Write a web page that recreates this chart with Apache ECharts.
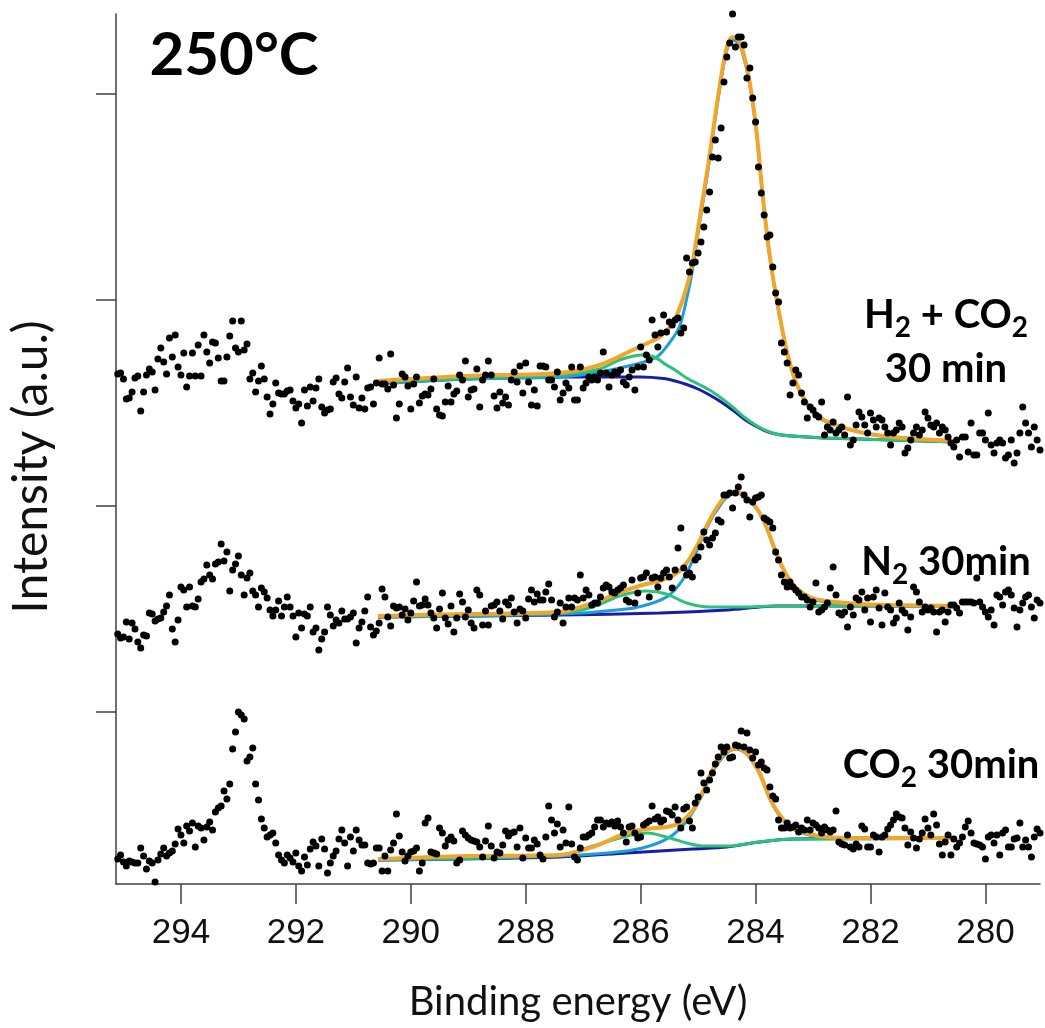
<!DOCTYPE html>
<html lang="en">
<head>
<meta charset="UTF-8">
<title>C 1s spectra 250°C</title>
<style>
  html, body { margin: 0; padding: 0; background: #fff; }
  #chart { width: 1045px; height: 1028px; }
</style>
</head>
<body>
<div id="chart"></div>
<script src="https://cdn.jsdelivr.net/npm/echarts@6/dist/echarts.min.js"></script>
<script>
// energy grid of the measured points (eV), highest energy first
var energyStart = 295.1;
var energyStep = 0.05;

// tick positions
var xTicks = [280, 282, 284, 286, 288, 290, 292, 294];
var yTicks = [172, 378, 584, 790];

// measured points, offset spectra (a.u.)
var h2co2Counts = [510,
  511,505,485,486,492,506,508,473,492,509, 515,512,494,525,536,522,510,546,527,549,
  517,509,531,497,508,531,508,539,508,549, 532,521,542,541,526,503,503,527,548,563,
  536,532,563,534,540,505,511,492,503,518, 505,487,470,480,501,491,490,490,493,494,
  483,476,480,461,494,478,497,483,496,505, 477,471,474,475,502,506,490,486,502,516,
  487,479,507,476,486,475,496,497,480,501, 526,500,500,495,530,499,466,480,510,507,
  498,475,500,507,481,488,490,489,495,505, 475,469,468,482,498,482,490,493,509,504,
  523,487,494,495,515,477,504,509,523,509, 488,476,492,481,487,479,504,512,502,518,
  491,521,502,479,494,478,518,518,517,504, 504,497,512,
  484,491,501,496,517,484,484,517,496,501, 507,504,507,504,511,532,511,497,509,512,
  511,514,502,499,507,514,494,517,537,517, 529,524,564,549,537,551,569,552,562,559,
  564,566,551,556,
  626,612,621,622,631,642,657,674,692,727, 744,726,756,802,827,841,870,837,847,847,
  839,806,816,786,762,717,691,669,647,649, 617,591,582,541,532,521,489,501,514,509,
  491,482,466,477,474,469,467,482,
  449,457,454,462,451,454,457,449,487,439, 444,459,472,467,459,451,471,464,457,466,
  464,457,451,439,451,454,461,457,431,436, 444,451,457,449,454,472,466,459,457,461,
  451,457,454,447,441,437,444,427,447,447, 432,461,429,429,451,451,444,471,439,431,
  441,444,441,426,429,444,421,431,451,477, 461,451,437,457,444,434];

var n2Counts = [250,
  246,247,262,245,261,255,242,236,249,248, 271,270,263,265,266,272,278,289,255,242,
  264,297,294,277,297,278,277,285,302,305, 319,309,305,320,322,340,323,332,293,314,
  320,328,309,289,306,311,293,289,277,296, 292,286,274,268,274,283,268,277,287,277,
  268,247,271,256,270,268,277,252,256,234, 245,252,277,269,258,264,261,273,265,265,
  267,271,241,256,262,273,287,257,249,253, 261,295,287,267,258,278,276,277,269,275,
  264,271,283,302,278,279,285,279,271,266, 256,275,291,266,260,278,252,266,290,282,
  267,274,261,256,294,289,259,273,259,278, 279,282,273,265,282,279,286,272,261,275,
  273,266,285,294,282,290,284,284,292,300, 284,267,272,
  281,261,277,286,277,286,284,309,286,294, 289,279,281,281,287,296,299,297,292,291,
  294,296,299,284,282,304,281,291,306,307, 311,287,306,307,297,306,311,314,307,296,
  314,336,356,316,309,311,307,324,327,337, 352,344,339,346,351,364,362,389,389,391,
  376,391,397,407,389,384,367,382,386,387, 389,366,364,362,356,332,324,309,302,297,
  302,297,294,291,287,287,284,277,282,301, 272,274,277,281,296,317,289,271,269,272,
  257,277,269,286,284,292,274,286,262,287, 294,276,259,291,277,274,261,266,281,274,
  271,254,267,297,292,282,272,277,274,276, 272,252,272,274,262,272,279,279,276,271,
  282,282,282,282,281,306,282,277,272,267, 274,259,289,287,279,292,294,289,276,257,
  274,281,287,289,277,266,284,281];

var co2Counts = [25,
  29,22,18,23,22,21,21,36,28,15, 23,21,2,24,30,36,28,31,33,40,
  55,49,41,58,53,61,37,58,56,44, 57,62,54,72,76,78,93,85,100,135,
  152,172,169,165,123,127,136,100,84,65, 56,47,49,51,41,29,24,21,29,26,
  22,31,18,13,27,19,35,42,38,18, 45,35,11,21,28,33,45,54,41,18,
  47,33,54,44,39,39,21,20,21,36, 36,13,28,13,34,41,70,48,32,23,
  28,32,33,36,13,21,61,66,32,31, 30,56,51,38,44,47,43,21,24,53,
  49,46,44,43,42,37,27,43,58,38, 26,32,31,39,53,48,51,52,37,56,
  26,46,36,36,44,40,29,25,47,78, 64,51,60,
  37,54,41,77,40,27,24,36,47,47, 49,51,57,64,64,57,61,60,62,58,
  63,57,51,42,57,58,51,46,47,59, 61,63,78,65,67,62,64,73,72,69,
  77,64,56,75,77,63,56,81,87,111, 101,94,104,111,120,127,137,132,137,126,
  127,139,138,153,137,151,134,126,132,119, 122,116,114,97,88,85,64,56,56,61,
  56,57,59,52,56,54,64,54,61,59, 56,51,57,54,52,54,73,42,40,39,
  49,37,35,40,37,58,55,37,37,49, 47,32,47,49,55,59,64,70,67,66,
  56,39,52,46,36,45,51,65,56,49, 70,59,40,29,42,49,29,45,37,41,
  47,57,63,51,41,40,39,37,25,47, 49,41,49,29,51,54,37,37,45,46,
  61,37,44,37,27,47,55,51];

// fitted curves [energy, intensity]
var h2co2Envelope = [[290.57,503],[289.03,508],[287.41,511],[286.71,519],[286.14,534],[285.84,542],[285.67,547],[285.44,561],[285.27,584],[285.11,617],[284.97,667],[284.83,717],[284.68,777],[284.54,827],[284.47,842],[284.40,847],[284.32,845],[284.24,837],[284.10,801],[283.98,751],[283.88,691],[283.76,631],[283.63,584],[283.46,534],[283.29,501],[283.06,477],[282.77,463],[282.19,452],[281.62,447],[280.50,443]];
var h2co2Main = [[290.57,500],[289.03,505],[287.41,507],[286.71,512],[286.14,519],[285.72,527],[285.50,541],[285.32,558],[285.20,585],[285.11,610],[284.97,662],[284.83,713],[284.68,774],[284.54,824],[284.47,839],[284.40,844],[284.32,842],[284.24,834],[284.10,799],[283.98,749],[283.88,690],[283.76,630],[283.63,583],[283.46,533],[283.29,500],[283.06,476],[282.77,462],[282.19,452],[281.62,447],[280.50,443]];
var h2co2Second = [[290.57,502],[289.03,506],[287.41,509],[286.71,515],[286.37,524],[285.97,529],[285.76,527],[285.55,519],[285.40,514],[285.20,506],[285.00,500],[284.80,494],[284.60,486],[284.40,477],[284.20,467],[284.00,459],[283.80,453],[283.60,449.5],[283.36,448],[282.77,446],[280.50,442]];
var h2co2Background = [[290.57,501],[289.03,505],[287.41,507],[286.71,507],[286.00,507],[285.60,505.5],[285.40,503],[285.20,499.5],[285.00,495],[284.80,489],[284.60,482],[284.40,474],[284.20,465],[284.00,458],[283.80,452.5],[283.60,449.5],[283.36,448],[282.77,446],[280.50,442]];

var n2Envelope = [[290.57,268],[289.03,270],[287.41,272],[286.83,281],[286.24,294],[285.90,300],[285.67,303],[285.37,311],[285.20,321],[285.03,337],[284.86,357],[284.68,376],[284.50,389],[284.33,392],[284.16,387],[283.98,376],[283.81,357],[283.64,331],[283.46,309],[283.29,296],[283.06,287],[282.77,283],[282.19,280],[281.62,279],[280.50,278]];
var n2Main = [[290.57,267],[287.41,270],[286.24,275],[285.79,281],[285.50,289],[285.27,304],[285.09,324],[284.92,347],[284.76,366],[284.68,373],[284.50,387],[284.33,391],[284.16,386],[283.98,375],[283.81,356],[283.64,330],[283.46,308],[283.29,295],[283.06,286],[282.77,282],[282.19,279],[281.62,278],[280.50,278]];
var n2Second = [[290.57,268],[287.41,271],[286.83,277],[286.37,288],[285.90,293],[285.55,290],[285.20,281],[284.80,277],[284.22,277],[283.64,278],[280.50,278]];
var n2Background = [[290.57,267],[287.41,269],[285.67,271],[284.50,274],[283.93,277],[283.64,278],[280.50,278]];

var co2Envelope = [[290.57,25],[289.03,28],[287.41,29],[286.83,37],[286.24,51],[285.90,55],[285.55,57],[285.32,61],[285.09,74],[284.92,92],[284.75,114],[284.57,129],[284.45,134],[284.33,136],[284.20,133],[284.10,127],[283.93,111],[283.76,87],[283.58,69],[283.36,56],[283.06,50],[282.77,47],[282.19,46],[280.50,46]];
var co2Main = [[290.57,24],[287.41,28],[286.24,33],[285.79,39],[285.44,49],[285.15,67],[284.92,90],[284.75,112],[284.57,127],[284.45,133],[284.33,135],[284.20,132],[284.10,126],[283.93,110],[283.76,86],[283.58,68],[283.36,55],[283.06,49],[282.77,46],[282.19,46],[280.50,46]];
var co2Second = [[290.57,25],[287.41,29],[286.83,38],[286.24,48],[285.88,51],[285.55,47],[285.20,41],[284.92,38],[284.50,38],[283.93,42],[283.36,45],[282.19,45],[280.50,46]];
var co2Background = [[290.57,24],[287.41,27],[286.24,31],[285.09,35],[284.50,37],[283.93,42],[283.36,45],[280.50,46]];

var chart = echarts.init(document.getElementById('chart'));

function toPoints(counts) {
  return counts.map(function (v, i) {
    return [+(energyStart - energyStep * i).toFixed(2), v];
  });
}

function dots(counts) {
  return {
    type: 'scatter',
    data: toPoints(counts),
    symbolSize: 7,
    itemStyle: { color: '#000', opacity: 1 },
    z: 10,
    silent: true
  };
}

function fit(data, color, width, z) {
  return {
    type: 'line',
    data: data,
    smooth: 0.3,
    symbol: 'none',
    lineStyle: { color: color, width: width },
    z: z,
    silent: true
  };
}

var C_BG = '#1b1ba6', C_MAIN = '#1e9ed8', C_SECOND = '#2bc27c', C_ENV = '#f0a62a';

var axisColor = '#404040';
var labelFont = 'Lato, "Noto Sans", sans-serif';
var rich = {
  b: { fontFamily: labelFont, fontWeight: 'bold', fontSize: 40, color: '#000', lineHeight: 54, verticalAlign: 'middle' },
  s: { fontFamily: labelFont, fontWeight: 'bold', fontSize: 28, color: '#000', verticalAlign: 'middle', padding: [26, 0, 0, 0] }
};

var option = {
  animation: false,
  backgroundColor: '#fff',
  grid: { left: 116, right: 5, top: 14, bottom: 144, outerBoundsMode: 'none' },
  xAxis: {
    type: 'value',
    inverse: true,
    min: 279.05,
    max: 295.13,
    name: 'Binding energy (eV)',
    nameLocation: 'middle',
    nameGap: 98,
    nameTextStyle: { fontFamily: labelFont, fontSize: 40, color: '#111' },
    axisLine: { onZero: false, lineStyle: { color: axisColor, width: 1.5 } },
    axisTick: { length: 20, customValues: xTicks, lineStyle: { color: axisColor, width: 1.5 } },
    axisLabel: { customValues: xTicks, margin: 32, fontFamily: 'Liberation Sans', fontSize: 35, fontWeight: 'normal', color: '#111' },
    splitLine: { show: false }
  },
  yAxis: {
    type: 'value',
    min: 0,
    max: 870,
    name: 'Intensity (a.u.)',
    nameLocation: 'middle',
    nameGap: 60,
    nameTextStyle: { fontFamily: labelFont, fontSize: 48, color: '#111', padding: [0, 36, 0, 0] },
    axisLine: { show: true, onZero: false, lineStyle: { color: axisColor, width: 1.5 } },
    axisTick: { show: true, length: 20, customValues: yTicks, lineStyle: { color: axisColor, width: 1.5 } },
    axisLabel: { show: false },
    splitLine: { show: false }
  },
  graphic: [
    { type: 'text', x: 234, y: 56, style: { text: '250°C', font: 'bold 60px ' + labelFont, fill: '#000', textAlign: 'center', textVerticalAlign: 'middle' } },
    { type: 'text', x: 946, y: 342, style: { text: '{b|H}{s|2}{b| + CO}{s|2}\n{b|30 min}', rich: rich, textAlign: 'center', textVerticalAlign: 'middle' } },
    { type: 'text', x: 946, y: 562, style: { text: '{b|N}{s|2}{b| 30min}', rich: rich, textAlign: 'center', textVerticalAlign: 'middle' } },
    { type: 'text', x: 941, y: 765, style: { text: '{b|CO}{s|2}{b| 30min}', rich: rich, textAlign: 'center', textVerticalAlign: 'middle' } }
  ],
  series: [
    fit(h2co2Background, C_BG, 3, 2),
    fit(h2co2Main, C_MAIN, 3, 3),
    fit(h2co2Second, C_SECOND, 3, 4),
    fit(h2co2Envelope, C_ENV, 4, 5),
    fit(n2Background, C_BG, 3, 2),
    fit(n2Main, C_MAIN, 3, 3),
    fit(n2Second, C_SECOND, 3, 4),
    fit(n2Envelope, C_ENV, 4, 5),
    fit(co2Background, C_BG, 3, 2),
    fit(co2Main, C_MAIN, 3, 3),
    fit(co2Second, C_SECOND, 3, 4),
    fit(co2Envelope, C_ENV, 4, 5),
    dots(h2co2Counts),
    dots(n2Counts),
    dots(co2Counts)
  ]
};

chart.setOption(option);
</script>
</body>
</html>
